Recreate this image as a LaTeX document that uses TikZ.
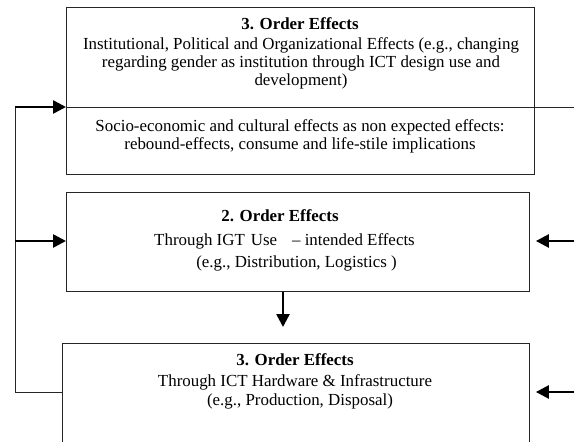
\documentclass[tikz,border=0pt]{standalone}
\usepackage{fontspec}
\setmainfont{Liberation Serif}
\usetikzlibrary{arrows.meta}

\tikzset{
  effbox/.style={draw=black!85, line width=0.9pt, anchor=north west, inner sep=0pt},
  txt/.style={font=\fontsize{16.9}{18.5}\selectfont, inner sep=0pt, anchor=base},
  bigarrow/.style={-{Triangle[length=13pt,width=13pt]}, line width=2.6pt},
  loopline/.style={line width=0.9pt, black!85}
}

\begin{document}
\begin{tikzpicture}[x=1pt, y=-1pt]
  \useasboundingbox (0,0) rectangle (574,442);
  \clip (0,0) rectangle (574,442);

  % Kaesten
  \node[effbox, minimum width=468pt, minimum height=167pt] (third) at (66,7) {};
  \node[effbox, minimum width=463pt, minimum height=99pt] (second) at (66,192) {};
  \node[effbox, minimum width=467pt, minimum height=130pt] (first) at (62,343) {};

  % Texte oben
  \node[txt] (t1) at (300,29.5) {\textbf{3. Order Effects}};
  \node[txt] (t2) at (301,49) {Institutional, Political and Organizational Effects (e.g., changing};
  \node[txt] (t3) at (301,67) {regarding gender as institution through ICT design use and};
  \node[txt] (t4) at (301,85.5) {development)};
  \node[txt] (s1) at (300,131) {Socio-economic and cultural effects as non expected effects:};
  \node[txt] (s2) at (300,149) {rebound-effects, consume and life-stile implications};

  % Texte Mitte
  \node[txt] (m1) at (280,221) {\textbf{2. Order Effects}};
  \node[txt] (m2) at (284.5,245.5) {Through IGT\hspace{6pt}Use\hspace{15pt}– intended Effects};
  \node[txt] (m3) at (296.5,267) {(e.g., Distribution, Logistics )};

  % Texte unten
  \node[txt] (b1) at (295,365) {\textbf{3. Order Effects}};
  \node[txt] (b2) at (295,386) {Through ICT Hardware \& Infrastructure};
  \node[txt] (b3) at (300,405.5) {(e.g., Production, Disposal)};

  % Hilfspunkte
  \coordinate (rim) at (574,107);
  \coordinate (loop) at (15,392);
  \coordinate (in2) at (574,241);
  \coordinate (in1) at (574,392);
  \coordinate (drop) at (283,327);

  % Trennlinie
  \draw[loopline] (third.north west |- rim) -- (rim);

  % Rueckkopplung links
  \draw[loopline] (first.north west |- loop) -- (loop) -- (loop |- rim);
  \draw[bigarrow] (loop |- rim) -- (third.north west |- rim);
  \draw[bigarrow] (loop |- in2) -- (second.north west |- in2);

  % Pfeile rechts
  \draw[bigarrow, shorten >=6pt] (in2) -- (second.north east |- in2);
  \draw[bigarrow, shorten >=6pt] (in1) -- (first.north east |- in1);

  % Pfeil nach unten
  \draw[bigarrow] (second.south -| drop) -- (drop);
\end{tikzpicture}
\end{document}
